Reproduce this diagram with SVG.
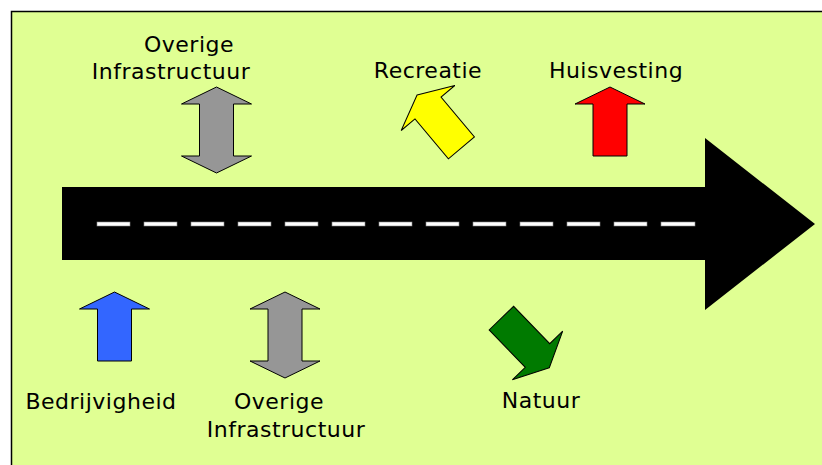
<svg xmlns="http://www.w3.org/2000/svg" xmlns:xlink="http://www.w3.org/1999/xlink" width="822" height="465" viewBox="0 0 822 465">
  <style>
    .label { font-family: "DejaVu Sans", Verdana, sans-serif; font-size: 22px; letter-spacing: 0.5px; fill: #000; text-anchor: middle; }
    .shape { stroke: #000; stroke-width: 1; stroke-linejoin: miter; }
    .dash { fill: #fff; stroke: #888; stroke-width: 0.6; }
  </style>
  <defs>
    <!-- block arrow, origin at the middle of the head base, pointing up -->
    <path id="blockArrow" d="M0,-17 L35,0 L17,0 L17,52 L-17,52 L-17,0 L-35,0 Z"/>
    <!-- two-headed block arrow, origin at the upper head base -->
    <path id="doubleArrow" d="M0,-17 L35,0 L17,0 L17,52 L35,52 L0,69 L-35,52 L-17,52 L-17,0 L-35,0 Z"/>
  </defs>

  <!-- background panel -->
  <rect x="11.5" y="11.5" width="812" height="455" fill="#E0FF93" stroke="#000" stroke-width="1.5"/>

  <!-- the road: a large black arrow with a dashed centre line -->
  <g id="connectors">
    <polygon points="62,187 705,187 705,138 815,224 705,310 705,260 62,260" fill="#000"/>
    <g id="centre-line">
      <rect class="dash" x="97" y="222" width="33" height="4"/>
      <rect class="dash" x="144" y="222" width="33" height="4"/>
      <rect class="dash" x="191" y="222" width="33" height="4"/>
      <rect class="dash" x="238" y="222" width="33" height="4"/>
      <rect class="dash" x="285" y="222" width="33" height="4"/>
      <rect class="dash" x="332" y="222" width="33" height="4"/>
      <rect class="dash" x="379" y="222" width="33" height="4"/>
      <rect class="dash" x="426" y="222" width="33" height="4"/>
      <rect class="dash" x="473" y="222" width="33" height="4"/>
      <rect class="dash" x="520" y="222" width="33" height="4"/>
      <rect class="dash" x="567" y="222" width="33" height="4"/>
      <rect class="dash" x="614" y="222" width="33" height="4"/>
      <rect class="dash" x="661" y="222" width="34" height="4"/>
    </g>
  </g>

  <g id="overige-infrastructuur-top">
    <use xlink:href="#doubleArrow" class="shape" fill="#969696" transform="translate(216.5,104)"/>
    <text class="label" x="189" y="52">Overige</text>
    <text class="label" x="171" y="79">Infrastructuur</text>
  </g>

  <g id="recreatie">
    <use xlink:href="#blockArrow" class="shape" fill="#FFFF00" transform="translate(428,108) rotate(-40)"/>
    <text class="label" x="428" y="78">Recreatie</text>
  </g>

  <g id="huisvesting">
    <use xlink:href="#blockArrow" class="shape" fill="#FF0000" transform="translate(610,104)"/>
    <text class="label" x="616" y="78">Huisvesting</text>
  </g>

  <g id="bedrijvigheid">
    <use xlink:href="#blockArrow" class="shape" fill="#3366FF" transform="translate(114.5,309)"/>
    <text class="label" x="101" y="409">Bedrijvigheid</text>
  </g>

  <g id="overige-infrastructuur-bottom">
    <use xlink:href="#doubleArrow" class="shape" fill="#969696" transform="translate(285,309)"/>
    <text class="label" x="279" y="409">Overige</text>
    <text class="label" x="286" y="437">Infrastructuur</text>
  </g>

  <g id="natuur">
    <use xlink:href="#blockArrow" class="shape" fill="#007A00" transform="translate(537.5,355.5) rotate(136)"/>
    <text class="label" x="541" y="408">Natuur</text>
  </g>
</svg>
